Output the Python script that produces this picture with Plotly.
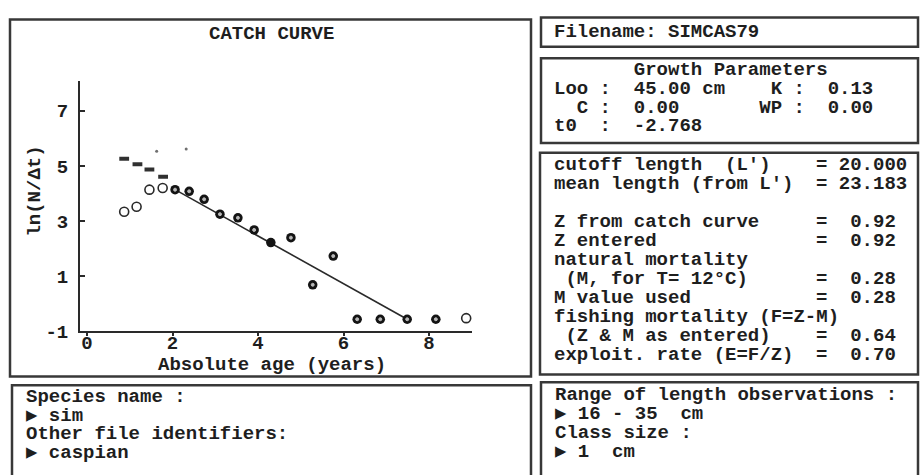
import plotly.graph_objects as go

# ---- catch-curve data (absolute age in years, ln(N/dt)) ----
age_used = [2.06, 2.39, 2.74, 3.11, 3.53, 3.91, 4.30, 4.77, 5.28, 5.76, 6.32, 6.86, 7.49, 8.16]
ln_used = [4.14, 4.08, 3.79, 3.25, 3.12, 2.68, 2.22, 2.40, 0.69, 1.73, -0.56, -0.56, -0.56, -0.56]
age_open = [0.87, 1.16, 1.46, 1.77, 8.87]
ln_open = [3.34, 3.52, 4.14, 4.20, -0.52]
age_raw = [0.87, 1.18, 1.46, 1.78]
ln_raw = [5.26, 5.06, 4.87, 4.61]
age_dots = [1.63, 2.32]
ln_dots = [5.53, 5.61]
fit_age = [2.06, 7.49]
fit_ln = [4.14, -0.56]

x_ticks = [0, 2, 4, 6, 8]
y_ticks = [-1, 1, 3, 5, 7]

# ---- text panels ----
filename_line = "Filename: SIMCAS79"
growth_lines = [
    "       Growth Parameters",
    "Loo :  45.00 cm    K :  0.13",
    "  C :  0.00       WP :  0.00",
    "t0  :  -2.768",
]
result_labels = [
    "cutoff length  (L')",
    "mean length (from L')",
    "",
    "Z from catch curve",
    "Z entered",
    "natural mortality",
    " (M, for T= 12°C)",
    "M value used",
    "fishing mortality (F=Z-M)",
    " (Z & M as entered)",
    "exploit. rate (E=F/Z)",
]
result_values = ["= 20.000", "= 23.183", "", "=  0.92", "=  0.92", "",
                 "=  0.28", "=  0.28", "", "=  0.64", "=  0.70"]
species_lines = ["Species name :", "▶ sim", "Other file identifiers:", "▶ caspian"]
range_lines = ["Range of length observations :", "▶ 16 - 35  cm", "Class size :", "▶ 1  cm"]

W, H = 920, 475
FONT = "Liberation Mono, DejaVu Sans Mono, monospace"
INK = "#1e1e1e"
CW = 11.4  # character cell width in px


def fx(x):
    return x / W


def fy(y):
    return 1 - y / H


def nb(s):
    return s.replace(" ", "\u00a0")


fig = go.Figure()

# fitted regression line
fig.add_trace(go.Scatter(x=fit_age, y=fit_ln, mode="lines",
                         line=dict(color="#2a2a2a", width=1.6), hoverinfo="skip"))
# raw (uncorrected) points
fig.add_trace(go.Scatter(x=age_raw, y=ln_raw, mode="markers",
                         marker=dict(symbol="line-ew", size=7, color="#303030",
                                     line=dict(width=4, color="#303030"))))
fig.add_trace(go.Scatter(x=age_dots, y=ln_dots, mode="markers",
                         marker=dict(symbol="circle", size=3, color="#707070")))
# points not used in the regression
fig.add_trace(go.Scatter(x=age_open, y=ln_open, mode="markers",
                         marker=dict(symbol="circle-open", size=9, color="#2a2a2a",
                                     line=dict(width=1.6))))
# points used in the regression
fig.add_trace(go.Scatter(x=age_used, y=ln_used, mode="markers",
                         marker=dict(symbol="circle", size=9.5, color="#141414")))
dot_sizes = [3] * len(age_used)
dot_sizes[6] = 0
fig.add_trace(go.Scatter(x=age_used, y=ln_used, mode="markers",
                         marker=dict(symbol="circle", size=dot_sizes, color="white")))

tickfont = dict(family=FONT, size=19, color=INK, weight="bold")
fig.update_layout(
    width=W, height=H,
    margin=dict(l=0, r=0, t=0, b=0),
    paper_bgcolor="white", plot_bgcolor="white",
    showlegend=False,
    xaxis=dict(domain=[fx(80), fx(472)], range=[(80 - 87) / 42.75, (472 - 87) / 42.75],
               tickvals=x_ticks, ticktext=[str(v) for v in x_ticks],
               showgrid=False, zeroline=False, showline=True, linecolor="#2a2a2a",
               linewidth=2, ticks="outside", ticklen=3, tickwidth=1.5, tickcolor="#2a2a2a",
               tickfont=tickfont, ticklabelstandoff=-10, anchor="y"),
    yaxis=dict(domain=[fy(340.7), fy(83)], range=[-1, -1 + (340.7 - 83) / 28.35],
               tickvals=y_ticks, ticktext=[str(v) for v in y_ticks],
               showgrid=False, zeroline=False, showline=True, linecolor="#2a2a2a",
               linewidth=2, ticks="inside", ticklen=5, tickwidth=1.5, tickcolor="#2a2a2a",
               tickfont=tickfont, ticklabelstandoff=6, anchor="x"),
)

# panel frames
boxes = [
    (10, 20, 531, 387),
    (12, 396, 531, 490),
    (541, 18, 918, 48),
    (541, 60, 918, 147),
    (540, 157, 918, 385),
    (541, 393, 918, 490),
]
for x0, y0, x1, y1 in boxes:
    fig.add_shape(type="rect", xref="paper", yref="paper",
                  x0=fx(x0), x1=fx(x1), y0=fy(y1), y1=fy(y0),
                  line=dict(color="#383838", width=2.5), fillcolor="rgba(0,0,0,0)")

ann = []


def put(text, x, y, anchor="left", angle=0, size=19):
    ann.append(dict(text=nb(text), x=fx(x), y=fy(y), xref="paper", yref="paper",
                    xanchor=anchor, yanchor="middle", showarrow=False, textangle=angle,
                    font=dict(family=FONT, size=size, color=INK, weight="bold")))


# chart titles
put("CATCH CURVE", 271, 35, "center")
put("Absolute age (years)", 272, 375, "center")
put("ln(N/\u0394t)", 35, 197, "center", angle=-90)

# right-hand panels
put(filename_line, 552, 33)
for i, line in enumerate(growth_lines):
    put(line, 552, 72 + 19.3 * i)
for i, (lab, val) in enumerate(zip(result_labels, result_values)):
    yy = 170 + 19.5 * i
    if lab:
        put(lab, 552, yy)
    if val:
        put(val, 552 + 23 * CW, yy)

# bottom panels
for i, line in enumerate(species_lines):
    put(line, 24, 408 + 19.3 * i)
for i, line in enumerate(range_lines):
    put(line, 553, 406 + 19.5 * i)

fig.update_layout(annotations=ann)
fig.write_html("out.html")
